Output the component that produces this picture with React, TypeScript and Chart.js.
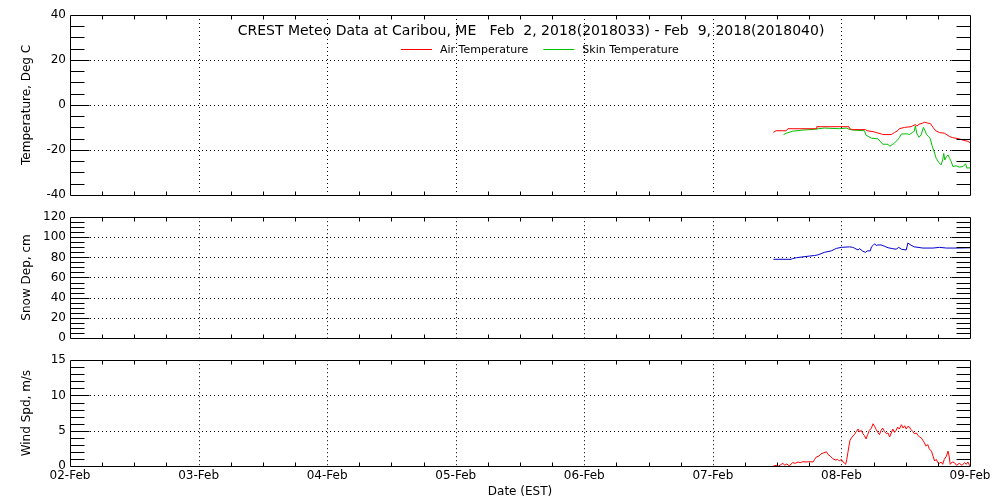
import React, { useEffect, useRef } from 'react';
import { Chart, registerables } from 'chart.js';

Chart.register(...registerables);

const FONT = 'DejaVu Sans';

const dayLabels = ['02-Feb', '03-Feb', '04-Feb', '05-Feb', '06-Feb', '07-Feb', '08-Feb', '09-Feb'];
const titleText = 'CREST Meteo Data at Caribou, ME   Feb  2, 2018(2018033) - Feb  9, 2018(2018040)';

const AIR_COLOR = '#ff0000';
const SKIN_COLOR = '#00c000';
const SNOW_COLOR = '#0000cc';
const WIND_COLOR = '#ff0000';

// hours since 02-Feb 00:00 EST
const airHours = [131.3, 131.8, 133.7, 134.0, 139.3, 139.4, 145.4, 145.5, 146.1, 148.5, 148.8, 149.9, 150.5, 151.4, 151.7, 153.3, 153.9, 154.5, 154.8, 155.8, 157.0, 157.3, 157.8, 158.1, 158.5, 159.2, 159.5, 160.1, 160.6, 161.1, 161.6, 162.3, 163.2, 163.7, 164.2, 164.8, 166.0, 166.8, 167.6, 168.0];
const airTemp = [-12.2, -11.5, -11.5, -10.6, -10.6, -9.7, -9.7, -10.6, -11.0, -11.0, -11.5, -11.9, -12.3, -12.9, -13.2, -13.2, -12.3, -11.5, -10.6, -10.0, -9.7, -9.3, -8.8, -9.4, -8.6, -8.1, -7.7, -8.1, -8.3, -10.0, -11.5, -12.3, -12.6, -13.3, -14.1, -14.6, -15.1, -15.8, -16.2, -16.8];

const skinHours = [133.2, 133.7, 134.9, 136.8, 138.7, 140.8, 143.6, 144.9, 145.5, 146.1, 148.3, 148.6, 149.6, 150.8, 151.2, 151.7, 152.7, 153.0, 153.6, 153.9, 154.5, 154.8, 155.2, 156.4, 156.7, 157.3, 157.6, 157.8, 158.1, 158.5, 158.9, 159.3, 159.6, 159.9, 160.3, 160.6, 160.9, 161.2, 161.7, 162.2, 162.6, 162.9, 163.1, 163.3, 163.6, 163.9, 164.2, 164.5, 164.8, 165.4, 166.0, 166.7, 167.2, 167.4, 168.0];
const skinTemp = [-13.2, -12.6, -11.7, -11.2, -10.9, -10.3, -10.6, -10.3, -10.9, -11.2, -11.5, -13.5, -14.8, -15.1, -16.1, -17.5, -17.5, -18.4, -17.5, -17.0, -15.5, -14.6, -12.9, -12.9, -13.2, -12.2, -11.7, -9.3, -12.9, -14.4, -13.2, -10.0, -11.5, -13.2, -14.1, -15.1, -18.0, -20.1, -23.8, -25.7, -26.7, -24.5, -21.6, -24.5, -23.0, -22.3, -23.8, -25.2, -27.4, -27.1, -27.7, -27.4, -26.2, -28.1, -28.0];

const snowHours = [131.3, 134.6, 134.9, 135.6, 138.0, 139.0, 139.6, 140.2, 140.8, 142.1, 142.7, 143.1, 144.0, 145.5, 146.1, 146.4, 147.1, 147.4, 147.9, 148.5, 148.8, 149.4, 149.6, 149.9, 150.2, 150.5, 150.8, 151.4, 152.0, 152.7, 153.6, 154.2, 154.7, 155.2, 156.1, 156.4, 157.0, 157.6, 158.3, 159.2, 161.1, 162.3, 163.6, 166.0, 168.0];
const snowDepth = [78.1, 78.1, 78.8, 79.7, 81.3, 81.9, 82.5, 83.7, 85.0, 86.5, 88.1, 89.0, 90.0, 90.5, 90.0, 89.3, 87.4, 88.7, 86.5, 85.0, 86.5, 86.5, 90.5, 91.8, 93.6, 91.8, 92.4, 92.4, 91.2, 89.6, 88.7, 88.1, 90.0, 88.1, 87.4, 94.3, 92.1, 90.5, 90.0, 89.3, 89.3, 90.0, 89.3, 89.3, 89.6];

const windHours = [131.3, 131.8, 132.3, 132.8, 133.1, 133.4, 133.8, 134.3, 134.6, 134.9,
  135.4, 135.9, 136.3, 136.8, 137.4, 138.0, 138.7, 139.0, 139.3, 139.8,
  140.2, 140.7, 141.2, 141.5, 141.9, 142.4, 142.9, 143.3, 143.6, 144.0,
  144.3, 144.6, 144.8, 145.0, 145.2, 145.4, 145.6, 146.0, 146.4, 146.8,
  147.1, 147.4, 147.7, 148.0, 148.3, 148.6, 148.9, 149.2, 149.6, 149.9,
  150.2, 150.5, 150.8, 151.1, 151.4, 151.7, 152.0, 152.4, 152.7, 153.0,
  153.3, 153.6, 153.9, 154.2, 154.5, 154.8, 155.2, 155.5, 155.8, 156.1,
  156.4, 156.7, 157.0, 157.3, 157.6, 158.0, 158.3, 158.6, 158.9, 159.2,
  159.5, 159.8, 160.1, 160.4, 160.8, 161.1, 161.4, 161.7, 162.0, 162.3,
  162.6, 162.9, 163.2, 163.6, 163.9, 164.1, 164.3, 164.7, 165.1, 165.5,
  166.0, 166.5, 167.0, 167.3, 167.6, 168.0];
const windSpeed = [0.0, 0.1, 0.0, 0.24, 0.38, 0.1, 0.29, 0.0, 0.29, 0.47,
  0.38, 0.57, 0.47, 0.61, 0.57, 0.61, 0.57, 0.94, 1.27, 1.41,
  1.73, 1.87, 2.01, 1.64, 1.41, 1.03, 0.85, 0.94, 0.71, 0.94,
  0.57, 0.38, 0.24, 0.94, 1.87, 2.81, 3.65, 4.12, 4.45, 4.91,
  5.24, 4.86, 5.05, 4.58, 4.3, 3.84, 4.45, 5.05, 5.38, 5.99,
  5.61, 5.15, 4.77, 4.45, 5.05, 5.38, 4.91, 4.58, 4.68, 4.12,
  4.68, 5.24, 4.77, 5.05, 5.52, 5.24, 5.85, 5.38, 5.71, 5.24,
  5.61, 5.52, 5.15, 4.91, 4.58, 4.68, 4.3, 4.12, 3.98, 3.65,
  3.28, 2.81, 3.04, 2.43, 2.11, 1.41, 0.71, 0.94, 0.47, 0.38,
  0.57, 0.24, 0.94, 1.41, 2.11, 1.41, 0.24, 0.57, 0.47, 0.1,
  0.38, 0.1, 0.47, 0.24, 0.57, 0.0];

const toPoints = (xs: number[], ys: number[]) => xs.map((x, i) => ({ x, y: ys[i] }));

function makeFrame(yMin: number, yMax: number, majorStep: number, minorStep: number) {
  return {
    id: 'frame',
    beforeDatasetsDraw(chart: any) {
      const { ctx, chartArea: a } = chart;
      const xs = chart.scales.x;
      const ys = chart.scales.y;
      ctx.save();
      ctx.strokeStyle = '#000';
      ctx.lineWidth = 1;
      ctx.setLineDash([1, 3]);
      ctx.beginPath();
      for (let d = 1; d < dayLabels.length - 1; d++) {
        const px = Math.round(xs.getPixelForValue(d * 24)) + 0.5;
        ctx.moveTo(px, a.top);
        ctx.lineTo(px, a.bottom);
      }
      for (let v = yMin + majorStep; v < yMax - 1e-9; v += majorStep) {
        const py = Math.round(ys.getPixelForValue(v)) + 0.5;
        ctx.moveTo(a.left, py);
        ctx.lineTo(a.right, py);
      }
      ctx.stroke();
      ctx.restore();
    },
    afterDatasetsDraw(chart: any) {
      const { ctx, chartArea: a } = chart;
      const xs = chart.scales.x;
      const ys = chart.scales.y;
      const L = Math.round(a.left) + 0.5;
      const R = Math.round(a.right) + 0.5;
      const T = Math.round(a.top) + 0.5;
      const B = Math.round(a.bottom) + 0.5;
      ctx.save();
      ctx.strokeStyle = '#000';
      ctx.lineWidth = 1;
      ctx.setLineDash([]);
      ctx.beginPath();
      ctx.rect(L, T, R - L, B - T);
      for (let v = yMin + minorStep; v < yMax - 1e-9; v += minorStep) {
        const isMajor = Math.abs((v - yMin) / majorStep - Math.round((v - yMin) / majorStep)) < 1e-6;
        const len = isMajor ? 19 : 14;
        const py = Math.round(ys.getPixelForValue(v)) + 0.5;
        ctx.moveTo(L, py);
        ctx.lineTo(L + len, py);
        ctx.moveTo(R, py);
        ctx.lineTo(R - len, py);
      }
      for (let h = 6; h < 168; h += 6) {
        if (h % 24 === 0) continue;
        const px = Math.round(xs.getPixelForValue(h)) + 0.5;
        ctx.moveTo(px, T);
        ctx.lineTo(px, T + 4);
        ctx.moveTo(px, B);
        ctx.lineTo(px, B - 4);
      }
      ctx.stroke();
      ctx.restore();
    },
  };
}

const legendItems = [
  { label: 'Air Temperature', color: AIR_COLOR },
  { label: 'Skin Temperature', color: SKIN_COLOR },
];

const headerPlugin = {
  id: 'header',
  afterDatasetsDraw(chart: any) {
    const { ctx, chartArea: a } = chart;
    ctx.save();
    ctx.fillStyle = '#000';
    ctx.font = `14px "${FONT}"`;
    ctx.textAlign = 'center';
    ctx.textBaseline = 'middle';
    ctx.fillText(titleText, (a.left + a.right) / 2 + 11, a.top + 16);
    ctx.font = `11px "${FONT}"`;
    ctx.textAlign = 'left';
    let x = a.left + 331;
    const y = a.top + 34;
    legendItems.forEach((it) => {
      ctx.setLineDash([]);
      ctx.strokeStyle = it.color;
      ctx.lineWidth = 1;
      ctx.beginPath();
      ctx.moveTo(x, y + 0.5);
      ctx.lineTo(x + 31, y + 0.5);
      ctx.stroke();
      ctx.fillStyle = '#000';
      ctx.fillText(it.label, x + 39, y + 1);
      x += 39 + ctx.measureText(it.label).width + 15;
    });
    ctx.restore();
  },
};

const tickFont = { family: FONT, size: 12 };

function yScale(min: number, max: number, step: number, title: string) {
  return {
    type: 'linear',
    position: 'left',
    min,
    max,
    ticks: {
      stepSize: step,
      color: '#000',
      font: tickFont,
      padding: 4,
      callback: (v: any) => String(v),
    },
    grid: { display: false, drawTicks: false },
    border: { display: false },
    title: {
      display: true,
      text: title,
      color: '#000',
      font: tickFont,
      padding: { top: 20, bottom: 0 },
    },
    afterFit: (s: any) => {
      s.width = 70;
    },
  };
}

const hiddenX = { type: 'linear', min: 0, max: 168, display: false };

const shownX = {
  type: 'linear',
  min: 0,
  max: 168,
  ticks: {
    stepSize: 6,
    autoSkip: false,
    maxRotation: 0,
    minRotation: 0,
    color: '#000',
    font: tickFont,
    padding: 3,
    callback: (v: any) => (Number(v) % 24 === 0 ? dayLabels[Number(v) / 24] : ''),
  },
  grid: { display: false, drawTicks: false },
  border: { display: false },
  title: {
    display: true,
    text: 'Date (EST)',
    color: '#000',
    font: tickFont,
    padding: { top: 0, bottom: 1 },
  },
  afterFit: (s: any) => {
    s.height = 34;
  },
};

function lineDs(label: string, xs: number[], ys: number[], color: string) {
  return {
    label,
    data: toPoints(xs, ys),
    borderColor: color,
    backgroundColor: color,
    borderWidth: 1,
    pointRadius: 0,
    tension: 0,
    fill: false,
  };
}

function baseOptions(padding: any, x: any, y: any) {
  return {
    responsive: false,
    animation: false,
    devicePixelRatio: 1,
    events: [],
    layout: { padding },
    plugins: { legend: { display: false }, tooltip: { enabled: false }, title: { display: false } },
    scales: { x, y },
  };
}

const panels = [
  {
    top: 0,
    height: 206,
    make: () => ({
      type: 'line',
      data: {
        datasets: [
          lineDs('Air Temperature', airHours, airTemp, AIR_COLOR),
          lineDs('Skin Temperature', skinHours, skinTemp, SKIN_COLOR),
        ],
      },
      options: baseOptions({ top: 15, bottom: 7, left: 0, right: 30 }, hiddenX, yScale(-40, 40, 20, 'Temperature, Deg C')),
      plugins: [makeFrame(-40, 40, 20, 5), headerPlugin],
    }),
  },
  {
    top: 206,
    height: 143,
    make: () => ({
      type: 'line',
      data: { datasets: [lineDs('Snow Depth', snowHours, snowDepth, SNOW_COLOR)] },
      options: baseOptions({ top: 8, bottom: 6, left: 0, right: 30 }, hiddenX, yScale(0, 120, 20, 'Snow Dep, cm')),
      plugins: [makeFrame(0, 120, 20, 5)],
    }),
  },
  {
    top: 349,
    height: 151,
    make: () => ({
      type: 'line',
      data: { datasets: [lineDs('Wind Speed', windHours, windSpeed, WIND_COLOR)] },
      options: baseOptions({ top: 10, bottom: 0, left: 0, right: 30 }, shownX, yScale(0, 15, 5, 'Wind Spd, m/s')),
      plugins: [makeFrame(0, 15, 5, 1)],
    }),
  },
];

function Panel({ top, height, make }: { top: number; height: number; make: () => any }) {
  const ref = useRef<HTMLCanvasElement>(null);
  useEffect(() => {
    if (!ref.current) return;
    const chart = new Chart(ref.current, make());
    return () => chart.destroy();
  }, []);
  return (
    <canvas
      ref={ref}
      width={1000}
      height={height}
      style={{ position: 'absolute', left: 0, top, width: 1000, height, display: 'block' }}
    />
  );
}

export default function App() {
  return (
    <div style={{ position: 'absolute', left: 0, top: 0, width: 1000, height: 500, background: '#fff' }}>
      {panels.map((p, i) => (
        <Panel key={i} top={p.top} height={p.height} make={p.make} />
      ))}
    </div>
  );
}
